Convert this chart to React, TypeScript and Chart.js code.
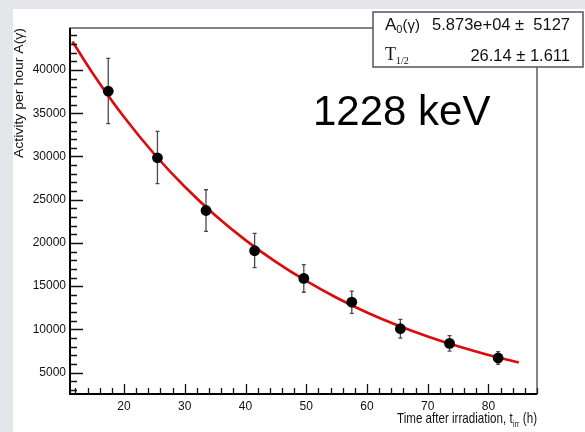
import React, { useEffect, useRef } from "react";
import { Chart, registerables } from "chart.js";

Chart.register(...registerables);

// ---- data ----
const times = [17.4, 25.5, 33.5, 41.5, 49.6, 57.5, 65.5, 73.6, 81.6];
const activity = [37550, 29850, 23750, 19100, 15900, 13150, 10080, 8380, 6700];
const errLow = [33800, 26850, 21350, 17150, 14300, 11850, 9000, 7480, 5970];
const errHigh = [41350, 32900, 26150, 21100, 17500, 14420, 11150, 9290, 7430];

const fitTimes = [11.5, 15, 20, 25, 30, 35, 40, 45, 50, 55, 60, 65, 70, 75, 80, 85];
const fitValues = [43290, 39460, 34560, 30260, 26500, 23210, 20330, 17810, 15600, 13660, 11960, 10480, 9180, 8040, 7040, 6170];

const xTickValues = [20, 30, 40, 50, 60, 70, 80];
const yTickValues = [5000, 10000, 15000, 20000, 25000, 30000, 35000, 40000];

const xRange = [11.1, 88];
const yRange = [2530, 44860];

const statLabels = ["A", "T"];
const statValues = ["5.873e+04 \u00b1  5127", "26.14 \u00b1 1.611"];
const energyLabel = "1228 keV";
const yTitle = "Activity per hour A(\u03b3)";

const SANS = '"Liberation Sans", Arial, Helvetica, sans-serif';
const SERIF = '"Liberation Serif", "Times New Roman", serif';

const rootPlugin = {
  id: "rootStyle",
  beforeDatasetsDraw(chart: any) {
    const ctx = chart.ctx as CanvasRenderingContext2D;
    const xs = chart.scales.x;
    const ys = chart.scales.y;
    ctx.save();
    ctx.strokeStyle = "#4a4a4a";
    ctx.lineWidth = 1.3;
    for (let i = 0; i < times.length; i++) {
      const px = xs.getPixelForValue(times[i]);
      const pl = ys.getPixelForValue(errLow[i]);
      const ph = ys.getPixelForValue(errHigh[i]);
      ctx.beginPath();
      ctx.moveTo(px, pl);
      ctx.lineTo(px, ph);
      ctx.moveTo(px - 2, pl);
      ctx.lineTo(px + 2, pl);
      ctx.moveTo(px - 2, ph);
      ctx.lineTo(px + 2, ph);
      ctx.stroke();
    }
    ctx.restore();
  },
  afterDraw(chart: any) {
    const ctx = chart.ctx as CanvasRenderingContext2D;
    const xs = chart.scales.x;
    const ys = chart.scales.y;
    const a = chart.chartArea;
    ctx.save();
    // inner ticks
    ctx.strokeStyle = "#111";
    ctx.lineWidth = 1.3;
    ctx.beginPath();
    for (let v = 1000; v <= 45000; v += 1000) {
      if (v < yRange[0] || v > yRange[1]) continue;
      const py = Math.round(ys.getPixelForValue(v)) + 0.5;
      const len = v % 5000 === 0 ? 13 : 7;
      ctx.moveTo(a.left, py);
      ctx.lineTo(a.left + len, py);
    }
    for (let v = 12; v <= 88; v += 2) {
      if (v < xRange[0] || v > xRange[1]) continue;
      const px = Math.round(xs.getPixelForValue(v)) + 0.5;
      const len = v % 10 === 0 ? 10 : 6;
      ctx.moveTo(px, a.bottom);
      ctx.lineTo(px, a.bottom - len);
    }
    ctx.stroke();

    // frame
    ctx.strokeStyle = "#333";
    ctx.lineWidth = 1.2;
    ctx.strokeRect(a.left, a.top, a.right - a.left, a.bottom - a.top);
    ctx.strokeStyle = "#000";
    ctx.lineWidth = 2;
    ctx.beginPath();
    ctx.moveTo(a.left, a.top);
    ctx.lineTo(a.left, a.bottom);
    ctx.lineTo(a.right, a.bottom);
    ctx.stroke();

    // y title (rotated, aligned to top of axis)
    ctx.fillStyle = "#111";
    ctx.save();
    ctx.translate(6, a.top);
    ctx.rotate(-Math.PI / 2);
    ctx.font = `13px ${SANS}`;
    const yw = ctx.measureText(yTitle).width;
    ctx.scale(130 / yw, 1);
    ctx.textAlign = "right";
    ctx.textBaseline = "middle";
    ctx.fillText(yTitle, 0, 0);
    ctx.restore();

    // x title with subscript, right-aligned at frame right
    {
      const p1 = "Time after irradiation, t";
      const p2 = "irr";
      const p3 = " (h)";
      ctx.font = `15px ${SANS}`;
      const w1 = ctx.measureText(p1).width;
      const w3 = ctx.measureText(p3).width;
      ctx.font = `9px ${SANS}`;
      const w2 = ctx.measureText(p2).width + 1;
      const total = w1 + w2 + w3;
      const sx = 140 / total;
      const base = 414;
      ctx.save();
      ctx.translate(a.right - 140, base);
      ctx.scale(sx, 1);
      ctx.textAlign = "left";
      ctx.textBaseline = "alphabetic";
      ctx.font = `15px ${SANS}`;
      ctx.fillText(p1, 0, 0);
      ctx.font = `9px ${SANS}`;
      ctx.fillText(p2, w1 + 0.5, 4);
      ctx.font = `15px ${SANS}`;
      ctx.fillText(p3, w1 + w2, 0);
      ctx.restore();
    }

    // energy label
    ctx.font = `42px ${SANS}`;
    ctx.fillStyle = "#000";
    ctx.textAlign = "left";
    ctx.textBaseline = "alphabetic";
    ctx.fillText(energyLabel, 300, 116);

    // stat box
    const bx = 360, by = 3, bw = 210, bh = 55;
    ctx.fillStyle = "#fff";
    ctx.fillRect(bx, by, bw, bh);
    ctx.strokeStyle = "#555";
    ctx.lineWidth = 1.5;
    ctx.strokeRect(bx, by, bw, bh);

    ctx.fillStyle = "#111";
    ctx.textBaseline = "alphabetic";
    // row 1: A0(γ)
    ctx.textAlign = "left";
    ctx.font = `17px ${SANS}`;
    ctx.fillText(statLabels[0], 372, 21);
    const aw = ctx.measureText(statLabels[0]).width;
    ctx.font = `11px ${SANS}`;
    ctx.fillText("0", 372 + aw, 24);
    const zw = ctx.measureText("0").width;
    ctx.font = `15px ${SANS}`;
    ctx.fillText("(\u03b3)", 372 + aw + zw, 21);
    ctx.textAlign = "right";
    ctx.font = `16.5px ${SANS}`;
    ctx.fillText(statValues[0], 557, 21);
    // row 2: T1/2
    ctx.textAlign = "left";
    ctx.font = `18px ${SERIF}`;
    ctx.fillText(statLabels[1], 372, 51);
    const tw = ctx.measureText(statLabels[1]).width;
    ctx.font = `10px ${SERIF}`;
    ctx.fillText("1/2", 372 + tw, 55);
    ctx.textAlign = "right";
    ctx.font = `16.5px ${SANS}`;
    ctx.fillText(statValues[1], 557, 52);

    ctx.restore();
  },
};

export default function App() {
  const ref = useRef<HTMLCanvasElement | null>(null);
  useEffect(() => {
    if (!ref.current) return;
    const chart = new Chart(ref.current, {
      type: "scatter",
      data: {
        datasets: [
          {
            label: "data",
            data: times.map((t, i) => ({ x: t, y: activity[i] })),
            pointRadius: 5.4,
            pointBackgroundColor: "#000",
            pointBorderColor: "#000",
            pointBorderWidth: 0,
            showLine: false,
            order: 0,
          },
          {
            label: "fit",
            data: fitTimes.map((t, i) => ({ x: t, y: fitValues[i] })),
            showLine: true,
            pointRadius: 0,
            borderColor: "#dc0a0a",
            borderWidth: 2.6,
            cubicInterpolationMode: "monotone",
            order: 1,
          } as any,
        ],
      },
      options: {
        responsive: false,
        animation: false,
        events: [],
        layout: { padding: { top: 19, right: 48, left: 0, bottom: 0 } },
        plugins: { legend: { display: false }, tooltip: { enabled: false }, title: { display: false } },
        scales: {
          x: {
            type: "linear",
            min: xRange[0],
            max: xRange[1],
            grid: { display: false, drawTicks: false },
            border: { display: false },
            afterFit: (s: any) => { s.height = 38; },
            afterBuildTicks: (s: any) => { s.ticks = xTickValues.map((v) => ({ value: v })); },
            ticks: { color: "#111", padding: 5, font: { family: SANS, size: 12 }, maxRotation: 0, autoSkip: false },
          },
          y: {
            type: "linear",
            min: yRange[0],
            max: yRange[1],
            grid: { display: false, drawTicks: false },
            border: { display: false },
            afterFit: (s: any) => { s.width = 57; },
            afterBuildTicks: (s: any) => { s.ticks = yTickValues.map((v) => ({ value: v })); },
            ticks: { color: "#111", padding: 4, font: { family: SANS, size: 12 }, autoSkip: false, callback: (v: any) => String(v) },
          },
        },
      },
      plugins: [rootPlugin],
    });
    return () => chart.destroy();
  }, []);

  return (
    <div style={{ position: "fixed", left: 0, top: 0, width: 585, height: 432, background: "#e4e6ea", overflow: "hidden" }}>
      <canvas
        ref={ref}
        width={572}
        height={423}
        style={{ position: "absolute", left: 13, top: 9, width: 572, height: 423, background: "#fff" }}
      />
    </div>
  );
}
